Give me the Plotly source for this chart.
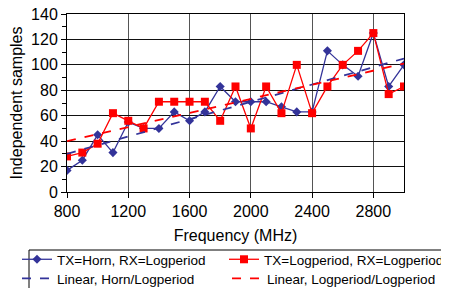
import plotly.graph_objects as go

freq = [800, 900, 1000, 1100, 1200, 1300, 1400, 1500, 1600, 1700, 1800, 1900,
        2000, 2100, 2200, 2300, 2400, 2500, 2600, 2700, 2800, 2900, 3000]
horn_log = [17, 25, 45, 31, 55, 50, 50, 63, 56, 63, 83, 71,
            71, 71, 67, 63, 63, 111, 100, 91, 125, 83, 100]
log_log = [28, 31, 38, 62, 56, 50, 71, 71, 71, 71, 56, 83,
           50, 83, 62, 100, 62, 83, 100, 111, 125, 77, 83]
trend_x = [800, 3000]
trend_horn = [30, 105]
trend_log = [40, 101]

BLUE = "#333399"
RED = "#FF0000"
FONT = "Liberation Sans, Arial, sans-serif"
# the page body adds an 8px offset, so the figure is drawn 8px smaller
W, H = 441, 280
L, R, T, B = 59, 45, 6, 96
PW, PH = W - L - R, H - T - B

fig = go.Figure()
fig.add_trace(go.Scatter(x=freq, y=horn_log, mode="lines+markers",
                         name="TX=Horn, RX=Logperiod", legend="legend",
                         line=dict(color=BLUE, width=1.3),
                         marker=dict(symbol="diamond", size=7, color=BLUE)))
fig.add_trace(go.Scatter(x=freq, y=log_log, mode="lines+markers",
                         name="TX=Logperiod, RX=Logperiod", legend="legend2",
                         line=dict(color=RED, width=1.3),
                         marker=dict(symbol="square", size=8, color=RED)))
fig.add_trace(go.Scatter(x=trend_x, y=trend_horn, mode="lines",
                         name="Linear, Horn/Logperiod", legend="legend3",
                         line=dict(color=BLUE, width=1.8, dash="dash")))
fig.add_trace(go.Scatter(x=trend_x, y=trend_log, mode="lines",
                         name="Linear, Logperiod/Logperiod", legend="legend4",
                         line=dict(color=RED, width=1.8, dash="dash")))


def leg(px, top):
    return dict(orientation="v", xref="paper", yref="container",
                xanchor="left", yanchor="top",
                x=(px - L) / PW, y=1 - top / H,
                borderwidth=0, bgcolor="rgba(0,0,0,0)",
                font=dict(size=13.5, family=FONT), itemwidth=30)


col1, col2 = 9, 219
row1, row2 = 236, 255

box_x = [21, 440.5]
box_y = [242, 300]

fig.update_layout(
    width=W, height=H,
    margin=dict(l=L, r=R, t=T, b=B),
    paper_bgcolor="white", plot_bgcolor="white",
    font=dict(family=FONT, size=16, color="black"),
    showlegend=True,
    legend=leg(col1, row1),
    legend2=leg(col2, row1),
    legend3=leg(col1, row2),
    legend4=leg(col2, row2),
    shapes=[dict(type="rect", xref="paper", yref="paper",
                 x0=(box_x[0] - L) / PW, x1=(box_x[1] - L) / PW,
                 y0=(H - B - box_y[1]) / PH, y1=(H - B - box_y[0]) / PH,
                 line=dict(color="black", width=1), fillcolor="rgba(0,0,0,0)",
                 layer="above")],
    xaxis=dict(range=[800, 3000], tick0=800, dtick=400, automargin=False,
               ticks="outside", ticklen=5, tickcolor="black",
               ticklabeloverflow="allow",
               showline=True, linecolor="black", linewidth=1, mirror=True,
               showgrid=True, gridcolor="#555555", gridwidth=1,
               zeroline=False,
               title=dict(text="Frequency (MHz)", font=dict(size=16)),
               tickfont=dict(size=16)),
    yaxis=dict(range=[0, 140], tick0=0, dtick=20, automargin=False,
               ticks="outside", ticklen=5, tickcolor="black",
               ticklabeloverflow="allow",
               minor=dict(dtick=10, ticks="outside", ticklen=4, tickcolor="black", showgrid=False),
               showline=True, linecolor="black", linewidth=1, mirror=True,
               showgrid=True, gridcolor="#111111", gridwidth=1,
               zeroline=False,
               title=dict(text="Independent samples", font=dict(size=16)),
               tickfont=dict(size=16)),
)

fig.write_html("out.html")
